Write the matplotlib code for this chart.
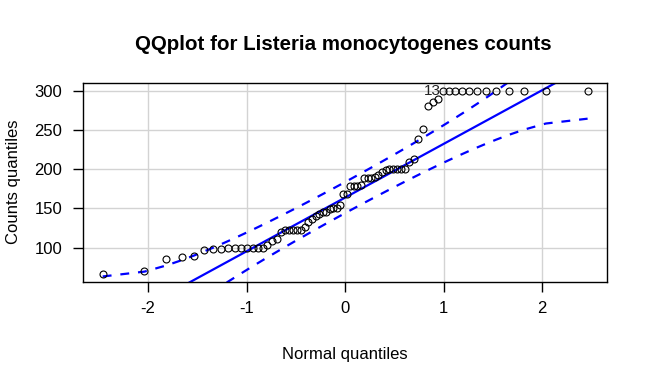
import numpy as np
import matplotlib
matplotlib.use('Agg')
import matplotlib.pyplot as plt
from statistics import NormalDist

# sorted counts (n = 72)
counts = [66, 70, 86, 88, 89, 97, 98, 99,
          100, 100, 100, 100, 100, 100, 100, 104,
          108, 111, 120, 122, 122, 122, 122, 123,
          126, 133, 136, 140, 143, 146, 146, 149,
          150, 151, 154, 168, 169, 178, 178, 178,
          180, 189, 189, 189, 190, 193, 197, 199,
          200, 200, 200, 200, 200, 209, 213, 239,
          251, 280, 286, 289,
          300, 300, 300, 300, 300, 300, 300, 300, 300, 300, 300, 300]
id_label = "13"
id_index = 60  # labelled point (0-based)

title = "QQplot for Listeria monocytogenes counts"
xlabel = "Normal quantiles"
ylabel = "Counts quantiles"
xticks = [-2, -1, 0, 1, 2]
yticks = [100, 150, 200, 250, 300]

plt.rcParams['font.family'] = ['Liberation Sans', 'DejaVu Sans']

nd = NormalDist()
y = np.sort(np.array(counts, dtype=float))
n = len(y)
P = (np.arange(1, n + 1) - 0.5) / n
z = np.array([nd.inv_cdf(p) for p in P])

# line through the quartiles
q1, q3 = np.quantile(y, [0.25, 0.75])
zq1, zq3 = nd.inv_cdf(0.25), nd.inv_cdf(0.75)
slope = (q3 - q1) / (zq3 - zq1)
intercept = q1 - slope * zq1

# pointwise 95% envelope
dens = np.array([nd.pdf(v) for v in z])
se = (slope / dens) * np.sqrt(P * (1 - P) / n)
fit = intercept + slope * z
upper = fit + 1.959964 * se
lower = fit - 1.959964 * se

fig = plt.figure(figsize=(6.5, 3.85), dpi=100)
ax = fig.add_axes([83.3 / 650, 1 - 281.8 / 385, (607 - 83.3) / 650, (281.8 - 83.3) / 385])

xr = z.max() - z.min()
yr = y.max() - y.min()
ax.set_xlim(z.min() - 0.04 * xr, z.max() + 0.04 * xr)
ax.set_ylim(y.min() - 0.04 * yr, y.max() + 0.04 * yr)

for t in xticks:
    ax.axvline(t, color='#D3D3D3', lw=1, zorder=0)
for t in yticks:
    ax.axhline(t, color='#D3D3D3', lw=1, zorder=0)

xx = np.array(ax.get_xlim())
ax.plot(xx, intercept + slope * xx, color='#0000FF', lw=1.6, zorder=2)
ax.plot(z, upper, color='#0000FF', lw=1.6, ls=(0, (4, 4)), zorder=2)
ax.plot(z, lower, color='#0000FF', lw=1.6, ls=(0, (4, 4)), zorder=2)

ax.plot(z, y, 'o', ms=5, mfc='none', mec='black', mew=0.8, zorder=3)
ax.text(z[id_index] - 0.02, y[id_index], id_label, ha='right', va='center',
        fontsize=11, color='#222222', zorder=4)

ax.set_xticks(xticks)
ax.set_yticks(yticks)
ax.set_xticklabels([str(t) for t in xticks])
ax.set_yticklabels([str(t) for t in yticks])
ax.tick_params(direction='out', length=7, width=1, labelsize=12, pad=7, colors='black')
ax.tick_params(axis='y', pad=8)
for s in ax.spines.values():
    s.set_linewidth(1)
    s.set_color('black')

fig.text(343 / 650, 1 - 44 / 385, title, ha='center', va='center',
         fontsize=14.8, fontweight='bold')
fig.text(345 / 650, 1 - 355 / 385, xlabel, ha='center', va='center', fontsize=12)
fig.text(14 / 650, 1 - 182 / 385, ylabel, ha='center', va='center',
         rotation=90, fontsize=12)

fig.savefig('out.png', dpi=100)
plt.close(fig)
